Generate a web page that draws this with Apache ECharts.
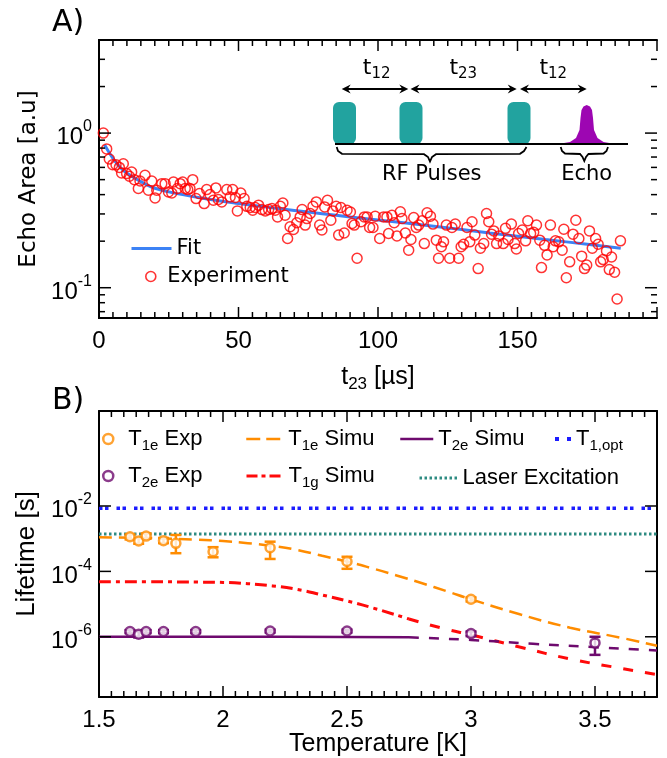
<!DOCTYPE html>
<html>
<head>
<meta charset="utf-8">
<script src="https://cdn.jsdelivr.net/npm/echarts@6/dist/echarts.min.js"></script>
<style>
html, body { margin: 0; padding: 0; background: #fff; }
#chart { width: 667px; height: 758px; }
</style>
</head>
<body>
<div id="chart"></div>
<script>
// ---- panel A: echo area vs t23 ----
var expT = [
  1.55, 2.75, 3.7, 4.9, 6.1, 7.3, 8.1, 8.7, 9.9, 10.9,
  11.7, 12.7, 14.1, 14.7, 16.5, 17.7, 18.9, 20.1, 20.7, 22.5,
  23.7, 24.9, 26.1, 26.7, 28.1, 29.1, 30.0, 30.9, 31.8, 32.6,
  33.6, 34.8, 36.0, 37.7, 38.6, 39.8, 41.0, 41.9, 42.8, 44.0,
  45.8, 47.0, 47.9, 48.9, 49.6, 50.8, 52.0, 53.0, 54.2, 55.1,
  56.0, 57.2, 58.4, 59.6, 60.8, 62.0, 63.2, 64.0, 65.0, 65.9,
  66.7, 67.6, 68.5, 69.7, 70.9, 72.1, 72.8, 73.9, 74.5, 75.7,
  76.7, 77.9, 79.1, 79.9, 80.9, 81.9, 83.1, 83.8, 85.0, 85.9,
  86.7, 87.9, 88.9, 90.1, 90.7, 91.5, 92.5, 93.9, 95.1, 96.1,
  97.0, 98.2, 99.0, 100.6, 102.0, 103.2, 103.8, 105.0, 105.8, 106.8,
  108.0, 108.6, 109.8, 111.0, 111.8, 112.8, 113.7, 114.6, 115.8, 116.6,
  117.6, 118.8, 119.7, 120.9, 121.7, 122.7, 123.5, 124.5, 125.7, 126.5,
  127.7, 128.9, 129.8, 130.7, 131.9, 132.9, 133.7, 134.7, 135.9, 136.7,
  137.9, 138.9, 139.7, 140.7, 141.5, 142.5, 143.3, 144.9, 145.7, 146.6,
  147.8, 149.0, 149.6, 150.4, 151.7, 152.9, 153.7, 154.7, 155.8, 156.8,
  158.0, 158.6, 159.7, 160.6, 161.8, 162.8, 163.6, 164.8, 166.0, 166.6,
  167.5, 168.7, 169.9, 170.9, 172.0, 173.0, 174.0, 174.8, 175.8, 176.8,
  178.0, 178.9, 179.8, 180.7, 181.9, 182.9, 183.7, 184.8, 185.7, 186.9
];
var expV = [
  1.0, 0.79, 0.68, 0.625, 0.625, 0.60, 0.552, 0.634, 0.547, 0.526,
  0.56, 0.50, 0.438, 0.49, 0.533, 0.427, 0.49, 0.381, 0.427, 0.471,
  0.471, 0.416, 0.41, 0.483, 0.438, 0.471, 0.483, 0.438, 0.431, 0.438,
  0.50, 0.377, 0.406, 0.35, 0.431, 0.40, 0.368, 0.442, 0.372, 0.359,
  0.431, 0.386, 0.431, 0.383, 0.314, 0.41, 0.377, 0.336, 0.33, 0.317,
  0.33, 0.342, 0.32, 0.314, 0.32, 0.325, 0.317, 0.287, 0.336, 0.353,
  0.294, 0.208, 0.248, 0.238, 0.263, 0.287, 0.32, 0.254, 0.28, 0.302,
  0.336, 0.359, 0.254, 0.236, 0.333, 0.368, 0.273, 0.314, 0.336, 0.219,
  0.33, 0.226, 0.317, 0.309, 0.26, 0.254, 0.155, 0.267, 0.287, 0.287,
  0.245, 0.245, 0.29, 0.208, 0.287, 0.287, 0.224, 0.294, 0.263, 0.216,
  0.31, 0.28, 0.226, 0.175, 0.205, 0.284, 0.245, 0.254, 0.271, 0.193,
  0.305, 0.29, 0.258, 0.203, 0.155, 0.184, 0.198, 0.254, 0.155, 0.245,
  0.258, 0.155, 0.184, 0.191, 0.245, 0.198, 0.267, 0.219, 0.133, 0.18,
  0.193, 0.302, 0.267, 0.222, 0.233, 0.193, 0.216, 0.193, 0.242, 0.205,
  0.258, 0.193, 0.178, 0.224, 0.236, 0.201, 0.271, 0.224, 0.228, 0.254,
  0.203, 0.135, 0.188, 0.163, 0.254, 0.184, 0.201, 0.198, 0.175, 0.239,
  0.116, 0.147, 0.222, 0.273, 0.208, 0.16, 0.133, 0.14, 0.233, 0.18,
  0.208, 0.191, 0.147, 0.152, 0.173, 0.131, 0.158, 0.126, 0.0845, 0.201
];
var fitT = [2, 4, 6, 8, 10, 15, 20, 30, 40, 50, 60, 70, 80, 90, 100, 120, 140, 160, 175, 187];
var fitV = [0.84, 0.73, 0.65, 0.59, 0.55, 0.485, 0.44, 0.40, 0.372, 0.35, 0.332, 0.316, 0.301, 0.287, 0.274, 0.25, 0.226, 0.205, 0.191, 0.18];

var xMajorA = [0, 50, 100, 150, 200];
var yMajorA = [0.1, 1];
var yLabelExpA = [0, -1];

// ---- panel B: lifetimes vs temperature ----
var t1eT    = [1.625, 1.66, 1.69, 1.76, 1.81, 1.96, 2.19, 2.5, 3.0];
var t1eV    = [1.15e-3, 8.5e-4, 1.2e-3, 8.7e-4, 7.2e-4, 4.0e-4, 5.3e-4, 2.0e-4, 1.4e-5];
var t1eLow  = [9.5e-4, 7.0e-4, 1.0e-3, 7.3e-4, 3.6e-4, 2.7e-4, 2.4e-4, 1.2e-4, 1.2e-5];
var t1eHigh = [1.35e-3, 1.05e-3, 1.45e-3, 1.05e-3, 1.3e-3, 5.5e-4, 8.1e-4, 2.8e-4, 1.6e-5];

var t2eT    = [1.625, 1.66, 1.69, 1.76, 1.89, 2.19, 2.5, 3.0, 3.5];
var t2eV    = [1.45e-6, 1.2e-6, 1.45e-6, 1.45e-6, 1.45e-6, 1.5e-6, 1.5e-6, 1.25e-6, 6.5e-7];
var t2eLow  = [1.3e-6, 0.95e-6, 1.3e-6, 1.3e-6, 1.3e-6, 1.35e-6, 1.35e-6, 1.05e-6, 2.8e-7];
var t2eHigh = [1.6e-6, 1.45e-6, 1.6e-6, 1.6e-6, 1.6e-6, 1.65e-6, 1.65e-6, 1.45e-6, 1.0e-6];

var t1eSimT = [1.5, 1.7, 1.9, 2.0, 2.1, 2.2, 2.3, 2.4, 2.5, 2.6, 2.7, 2.8, 2.9, 3.0, 3.2, 3.4, 3.6, 3.75];
var t1eSimV = [1.1e-3, 1.05e-3, 9.3e-4, 8.5e-4, 7.3e-4, 6.0e-4, 4.5e-4, 3.0e-4, 2.0e-4, 1.25e-4, 7.5e-5, 4.4e-5, 2.5e-5, 1.4e-5, 4.8e-6, 1.9e-6, 9.5e-7, 5.3e-7];

var t1gSimT = [1.5, 1.7, 1.9, 2.0, 2.1, 2.2, 2.3, 2.4, 2.5, 2.6, 2.75];
var t1gSimV = [4.8e-5, 4.8e-5, 4.7e-5, 4.6e-5, 4.2e-5, 3.6e-5, 2.8e-5, 1.9e-5, 1.25e-5, 7.8e-6, 3.5e-6];
var t1gExtT = [2.75, 2.9, 3.0, 3.2, 3.4, 3.6, 3.75];
var t1gExtV = [3.5e-6, 1.7e-6, 1.15e-6, 4.8e-7, 2.1e-7, 1.1e-7, 7e-8];

var t2eSimT = [1.5, 2.0, 2.5, 2.75];
var t2eSimV = [1.0e-6, 1.0e-6, 9.9e-7, 9.6e-7];
var t2eExtT = [2.75, 3.0, 3.25, 3.5, 3.75];
var t2eExtV = [9.6e-7, 8.0e-7, 6.1e-7, 4.8e-7, 3.8e-7];

var t1optV = 8.5e-3;
var laserV = 1.4e-3;

var xMajorB = [1.5, 2, 2.5, 3, 3.5];
var yMajorB = [1e-2, 1e-4, 1e-6];
var yLabelExpB = [-2, -4, -6];

var rangeA = { xMin: 0, xMax: 200, yMin: 0.0637, yMax: 4 };
var rangeB = { xMin: 1.5, xMax: 3.75, yMin: 1.44e-8, yMax: 8.04 };

var ORANGE = '#ff8c00', RED = '#ff0a0a', PURPLE = '#6e0a6e', BLUE = '#1c1cff', TEAL = '#2e8b82';

function pairs(xs, ys) {
  return xs.map(function (x, i) { return [x, ys[i]]; });
}
function bars(xs, lo, hi) {
  return xs.map(function (x, i) { return [x, lo[i], hi[i]]; });
}

// frame ticks (drawn inward on all four sides)
function minorLog(min, max) {
  var out = [];
  [1e-3, 1e-2, 1e-1, 1].forEach(function (d) {
    for (var k = 2; k <= 9; k++) {
      var v = k * d;
      if (v > min && v <= max) out.push(v);
    }
  });
  return out;
}
function tickItems(xMaj, xMin, yMaj, yMin, xRef, yRef) {
  var out = [];
  xMaj.forEach(function (v) { out.push([v, yRef, 0, 11]); });
  xMin.forEach(function (v) { out.push([v, yRef, 0, 6]); });
  yMaj.forEach(function (v) { out.push([xRef, v, 1, 12]); });
  yMin.forEach(function (v) { out.push([xRef, v, 1, 6]); });
  return out;
}
var xMinorA = [];
for (var i = 1; i < 40; i++) { if (i % 10) xMinorA.push(i * 5); }
var xMinorB = [];
for (var j = 31; j < 75; j++) { if (j % 10) xMinorB.push(Math.round(j * 5) / 100); }
var ticksA = tickItems(xMajorA, xMinorA, yMajorA, minorLog(0.06, 4), 0, 1);
var ticksB = tickItems(xMajorB, xMinorB, yMajorB, [], 1.5, 1e-3);

function renderTick(params, api) {
  var cs = params.coordSys;
  var p = api.coord([api.value(0), api.value(1)]);
  var len = api.value(3);
  var st = { stroke: '#000', lineWidth: 1.5 };
  var a, b;
  if (api.value(2) === 0) {
    var yb = cs.y + cs.height;
    a = { x1: p[0], y1: yb, x2: p[0], y2: yb - len };
    b = { x1: p[0], y1: cs.y, x2: p[0], y2: cs.y + len };
  } else {
    var xr = cs.x + cs.width;
    a = { x1: cs.x, y1: p[1], x2: cs.x + len, y2: p[1] };
    b = { x1: xr, y1: p[1], x2: xr - len, y2: p[1] };
  }
  return { type: 'group', children: [
    { type: 'line', shape: a, style: st },
    { type: 'line', shape: b, style: st }
  ] };
}

function errorRenderer(color) {
  return function (params, api) {
    var x = api.value(0);
    var lo = api.coord([x, api.value(1)]);
    var hi = api.coord([x, api.value(2)]);
    var st = { stroke: color, lineWidth: 2.5 };
    return { type: 'group', children: [
      { type: 'line', shape: { x1: lo[0], y1: lo[1], x2: hi[0], y2: hi[1] }, style: st },
      { type: 'line', shape: { x1: lo[0] - 5.5, y1: lo[1], x2: lo[0] + 5.5, y2: lo[1] }, style: st },
      { type: 'line', shape: { x1: hi[0] - 5.5, y1: hi[1], x2: hi[0] + 5.5, y2: hi[1] }, style: st }
    ] };
  };
}

function powLabel(allowed) {
  return function (v) {
    var lg = Math.log10(v);
    var e = Math.round(lg);
    if (Math.abs(lg - e) > 1e-6 || allowed.indexOf(e) < 0) return '';
    return '{b|10}{p|' + e + '}';
  };
}
var powRich = {
  b: { fontSize: 24, fontFamily: 'Liberation Sans', color: '#000', padding: [9, 0, 0, 0] },
  p: { fontSize: 16, fontFamily: 'Liberation Sans', color: '#000', padding: [0, 0, 12, 0] }
};

var legRich = {
  m: { fontSize: 22, fontFamily: 'Liberation Sans', color: '#000' },
  s: { fontSize: 15, fontFamily: 'Liberation Sans', color: '#000', padding: [13, 0, 0, 0] }
};
var noDot = { opacity: 0 };
function legend(name, text, left, top, extra) {
  var o = {
    data: [name], left: left, top: top, padding: 0, selectedMode: false,
    itemGap: 0, itemWidth: 34, itemHeight: 10,
    formatter: function () { return text; },
    textStyle: { rich: legRich, fontSize: 22, fontFamily: 'Liberation Sans', color: '#000' }
  };
  for (var k in extra) o[k] = extra[k];
  return o;
}

var axisLine = { show: true, lineStyle: { color: '#000', width: 2 } };

// inset: pulse sequence sketch
function arrowHead(x, y, dir) {
  return { type: 'polygon', shape: { points: [[x, y], [x - dir * 9, y - 4.5], [x - dir * 6, y], [x - dir * 9, y + 4.5]] },
    style: { fill: '#000' } };
}
function arrow(x1, x2, y) {
  return [
    { type: 'line', shape: { x1: x1 + 4, y1: y, x2: x2 - 4, y2: y }, style: { stroke: '#000', lineWidth: 1.8 } },
    arrowHead(x1, y, -1), arrowHead(x2, y, 1)
  ];
}
var insetRich = {
  t: { fontSize: 22, fontFamily: 'DejaVu Sans', fill: '#000' },
  s: { fontSize: 15, fontFamily: 'DejaVu Sans', fill: '#000', padding: [13, 0, 0, 0] }
};
function tLabel(x, sub) {
  return { type: 'text', x: x, y: 68, style: { text: '{t|t}{s|' + sub + '}', rich: insetRich,
    align: 'center', verticalAlign: 'middle', textAlign: 'center', textVerticalAlign: 'middle' } };
}
function plainText(x, y, txt, size) {
  return { type: 'text', x: x, y: y, style: { text: txt, fontSize: size, fontFamily: 'DejaVu Sans', fill: '#000',
    align: 'center', verticalAlign: 'middle', textAlign: 'center', textVerticalAlign: 'middle' } };
}
var pulseStyle = { fill: '#22a39f' };
var inset = [
  { type: 'rect', shape: { x: 333, y: 102, width: 23, height: 42, r: 6 }, style: pulseStyle },
  { type: 'rect', shape: { x: 399.5, y: 102, width: 23, height: 42, r: 6 }, style: pulseStyle },
  { type: 'rect', shape: { x: 507.5, y: 102, width: 23, height: 42, r: 6 }, style: pulseStyle },
  { type: 'polygon', shape: { points: [[558, 144], [570, 142], [576, 138], [579.5, 130], [580.5, 118], [581.5, 110], [583.5, 106.5], [586.7, 105], [590, 106.5], [592, 110], [593, 118], [594, 130], [597.5, 138], [603.5, 142], [615, 144]] },
    style: { fill: '#9d06b2' } },
  { type: 'line', shape: { x1: 335, y1: 144, x2: 628, y2: 144 }, style: { stroke: '#000', lineWidth: 2 } },
  { type: 'polyline', shape: { points: [[336.7, 147], [338, 151], [342, 153.8], [424, 154.2], [428, 157], [430, 161.5], [432, 157], [436, 154.2], [520, 153.8], [524, 151], [526.5, 147]] },
    style: { stroke: '#000', lineWidth: 1.8, fill: null } },
  { type: 'polyline', shape: { points: [[560.7, 147], [562, 151], [565, 153.5], [580, 154], [582.5, 157], [584.3, 161], [586, 157], [588.5, 154], [603.5, 153.5], [606.5, 151], [608, 147]] },
    style: { stroke: '#000', lineWidth: 1.8, fill: null } },
  tLabel(376.7, '12'), tLabel(463.3, '23'), tLabel(553.3, '12'),
  plainText(431.7, 175, 'RF Pulses', 21),
  plainText(586.7, 175, 'Echo', 21),
  { type: 'text', x: 52, y: 8, style: { text: 'A)', fontSize: 30, fontFamily: 'DejaVu Sans', fill: '#000' } },
  { type: 'text', x: 52, y: 386, style: { text: 'B)', fontSize: 30, fontFamily: 'DejaVu Sans', fill: '#000' } }
].concat(arrow(341.7, 408.3, 89), arrow(410.5, 516.7, 89), arrow(520, 586.7, 89));

var option = {
  animation: false,
  backgroundColor: '#fff',
  textStyle: { fontFamily: 'Liberation Sans', color: '#000' },
  graphic: { elements: inset },
  grid: [
    { left: 99, top: 40, right: 10, bottom: 440 },
    { left: 99, top: 411, right: 10, bottom: 61 }
  ],
  xAxis: [
    { type: 'value', gridIndex: 0, min: rangeA.xMin, max: rangeA.xMax, interval: 50,
      axisLine: axisLine, axisTick: { show: false }, splitLine: { show: false },
      axisLabel: { fontSize: 24, color: '#000', margin: 11, showMaxLabel: false },
      name: '{i|t}{s|23}{i| [\u00b5s]}', nameLocation: 'middle', nameGap: 44, nameMoveOverlap: false,
      nameTextStyle: { rich: {
        i: { fontSize: 25, fontFamily: 'Liberation Sans', color: '#000' },
        s: { fontSize: 17, fontFamily: 'Liberation Sans', color: '#000', padding: [14, 0, 0, 0] } } } },
    { type: 'value', gridIndex: 0, position: 'top', min: rangeA.xMin, max: rangeA.xMax,
      axisLine: axisLine, axisTick: { show: false }, axisLabel: { show: false }, splitLine: { show: false } },
    { type: 'value', gridIndex: 1, min: rangeB.xMin, max: rangeB.xMax, interval: 0.5,
      axisLine: axisLine, axisTick: { show: false }, splitLine: { show: false },
      axisLabel: { fontSize: 24, color: '#000', margin: 11, showMaxLabel: false },
      name: 'Temperature [K]', nameLocation: 'middle', nameGap: 35, nameMoveOverlap: false,
      nameTextStyle: { fontSize: 25, fontFamily: 'Liberation Sans', color: '#000' } },
    { type: 'value', gridIndex: 1, position: 'top', min: rangeB.xMin, max: rangeB.xMax,
      axisLine: axisLine, axisTick: { show: false }, axisLabel: { show: false }, splitLine: { show: false } }
  ],
  yAxis: [
    { type: 'log', gridIndex: 0, min: rangeA.yMin, max: rangeA.yMax,
      axisLine: axisLine, axisTick: { show: false }, splitLine: { show: false },
      axisLabel: { formatter: powLabel(yLabelExpA), rich: powRich, margin: 7, showMinLabel: false, showMaxLabel: false },
      name: 'Echo Area [a.u]', nameLocation: 'middle', nameGap: 55,
      nameTextStyle: { fontSize: 23, fontFamily: 'DejaVu Sans', color: '#000' } },
    { type: 'log', gridIndex: 0, position: 'right', min: rangeA.yMin, max: rangeA.yMax,
      axisLine: axisLine, axisTick: { show: false }, axisLabel: { show: false }, splitLine: { show: false } },
    { type: 'log', gridIndex: 1, min: rangeB.yMin, max: rangeB.yMax,
      axisLine: axisLine, axisTick: { show: false }, splitLine: { show: false },
      axisLabel: { formatter: powLabel(yLabelExpB), rich: powRich, margin: 7, showMinLabel: false, showMaxLabel: false },
      name: 'Lifetime [s]', nameLocation: 'middle', nameGap: 57,
      nameTextStyle: { fontSize: 26, fontFamily: 'Liberation Sans', color: '#000' } },
    { type: 'log', gridIndex: 1, position: 'right', min: rangeB.yMin, max: rangeB.yMax,
      axisLine: axisLine, axisTick: { show: false }, axisLabel: { show: false }, splitLine: { show: false } }
  ],
  legend: [
    { data: ['Fit'], left: 130, top: 238, padding: 0, selectedMode: false, itemWidth: 40, itemHeight: 10,
      lineStyle: { color: '#3c82f5', width: 3, type: 'solid' }, itemStyle: noDot,
      textStyle: { fontSize: 21, fontFamily: 'DejaVu Sans', color: '#000' } },
    { data: ['Experiment'], left: 145, top: 266, padding: 0, selectedMode: false, itemWidth: 23, itemHeight: 10,
      icon: 'circle', itemStyle: { color: 'rgba(0,0,0,0)', borderColor: '#ff0000', borderWidth: 1.6 },
      textStyle: { fontSize: 21, fontFamily: 'DejaVu Sans', color: '#000' } },
    legend('T1e Exp', '{m|T}{s|1e}{m| Exp}', 102, 428,
      { itemWidth: 30, icon: 'circle', itemStyle: { color: '#fff', borderColor: ORANGE, borderWidth: 2.5 } }),
    legend('T2e Exp', '{m|T}{s|2e}{m| Exp}', 102, 465,
      { itemWidth: 30, icon: 'circle', itemStyle: { color: '#fff', borderColor: PURPLE, borderWidth: 2.5 } }),
    legend('T1e Simu', '{m|T}{s|1e}{m| Simu}', 245, 428,
      { itemWidth: 37, itemStyle: noDot, lineStyle: { color: ORANGE, width: 2.5, type: [14, 6] } }),
    legend('T1g Simu', '{m|T}{s|1g}{m| Simu}', 245, 465,
      { itemWidth: 37, itemStyle: noDot, lineStyle: { color: RED, width: 3, type: [11, 4, 4, 4] } }),
    legend('T2e Simu', '{m|T}{s|2e}{m| Simu}', 399, 428,
      { itemWidth: 33, itemStyle: noDot, lineStyle: { color: PURPLE, width: 2.5, type: 'solid' } }),
    legend('T1,opt', '{m|T}{s|1,opt}', 553, 428,
      { itemWidth: 16, itemStyle: noDot, lineStyle: { color: BLUE, width: 4, type: [4, 8] } }),
    legend('Laser Excitation', '{m|Laser Excitation}', 418, 467,
      { itemWidth: 38, itemStyle: noDot, lineStyle: { color: TEAL, width: 3, type: [2.5, 2.5] } })
  ],
  series: [
    { name: 'Fit', type: 'line', xAxisIndex: 0, yAxisIndex: 0, data: pairs(fitT, fitV),
      smooth: true, symbol: 'none', lineStyle: { color: '#3c82f5', width: 3 }, itemStyle: { color: '#3c82f5' }, z: 2 },
    { name: 'Experiment', type: 'scatter', xAxisIndex: 0, yAxisIndex: 0, data: pairs(expT, expV),
      symbol: 'circle', symbolSize: 10,
      itemStyle: { color: 'rgba(0,0,0,0)', borderColor: '#ff0000', borderWidth: 1.5 }, z: 3 },
    { name: 'ticksA', type: 'custom', xAxisIndex: 0, yAxisIndex: 0, data: ticksA,
      renderItem: renderTick, encode: { x: 0, y: 1 }, silent: true, z: 6 },

    { name: 'T1,opt', type: 'line', xAxisIndex: 2, yAxisIndex: 2,
      data: [[rangeB.xMin, t1optV], [rangeB.xMax, t1optV]], symbol: 'none',
      lineStyle: { color: BLUE, width: 3.5, type: [3.5, 2.5, 3.5, 8] }, itemStyle: { color: BLUE }, z: 2 },
    { name: 'Laser Excitation', type: 'line', xAxisIndex: 2, yAxisIndex: 2,
      data: [[rangeB.xMin, laserV], [rangeB.xMax, laserV]], symbol: 'none',
      lineStyle: { color: TEAL, width: 3, type: [2.5, 2.5] }, itemStyle: { color: TEAL }, z: 2 },
    { name: 'T1e Simu', type: 'line', xAxisIndex: 2, yAxisIndex: 2, data: pairs(t1eSimT, t1eSimV),
      smooth: true, symbol: 'none', lineStyle: { color: ORANGE, width: 2.5, type: [13, 7] }, itemStyle: { color: ORANGE }, z: 2 },
    { name: 'T1g Simu', type: 'line', xAxisIndex: 2, yAxisIndex: 2, data: pairs(t1gSimT, t1gSimV),
      smooth: true, symbol: 'none', lineStyle: { color: RED, width: 3, type: [12, 5, 4, 5] }, itemStyle: { color: RED }, z: 2 },
    { name: 'T1g Simu ext', type: 'line', xAxisIndex: 2, yAxisIndex: 2, data: pairs(t1gExtT, t1gExtV),
      smooth: true, symbol: 'none', lineStyle: { color: RED, width: 3, type: [10, 12] }, z: 2 },
    { name: 'T2e Simu', type: 'line', xAxisIndex: 2, yAxisIndex: 2, data: pairs(t2eSimT, t2eSimV),
      smooth: true, symbol: 'none', lineStyle: { color: PURPLE, width: 2.5 }, itemStyle: { color: PURPLE }, z: 2 },
    { name: 'T2e Simu ext', type: 'line', xAxisIndex: 2, yAxisIndex: 2, data: pairs(t2eExtT, t2eExtV),
      smooth: true, symbol: 'none', lineStyle: { color: PURPLE, width: 2.5, type: [10, 10] }, z: 2 },
    { name: 'T1e err', type: 'custom', xAxisIndex: 2, yAxisIndex: 2, data: bars(t1eT, t1eLow, t1eHigh),
      renderItem: errorRenderer(ORANGE), encode: { x: 0, y: [1, 2] }, silent: true, z: 3 },
    { name: 'T2e err', type: 'custom', xAxisIndex: 2, yAxisIndex: 2, data: bars(t2eT, t2eLow, t2eHigh),
      renderItem: errorRenderer(PURPLE), encode: { x: 0, y: [1, 2] }, silent: true, z: 3 },
    { name: 'T1e Exp', type: 'scatter', xAxisIndex: 2, yAxisIndex: 2, data: pairs(t1eT, t1eV),
      symbol: 'circle', symbolSize: 9, itemStyle: { color: '#fff', borderColor: ORANGE, borderWidth: 2.5 }, z: 4 },
    { name: 'T2e Exp', type: 'scatter', xAxisIndex: 2, yAxisIndex: 2, data: pairs(t2eT, t2eV),
      symbol: 'circle', symbolSize: 9, itemStyle: { color: '#fff', borderColor: PURPLE, borderWidth: 2.5 }, z: 4 },
    { name: 'ticksB', type: 'custom', xAxisIndex: 2, yAxisIndex: 2, data: ticksB,
      renderItem: renderTick, encode: { x: 0, y: 1 }, silent: true, z: 6 }
  ]
};

var chart = echarts.init(document.getElementById('chart'));
chart.setOption(option);
</script>
</body>
</html>
